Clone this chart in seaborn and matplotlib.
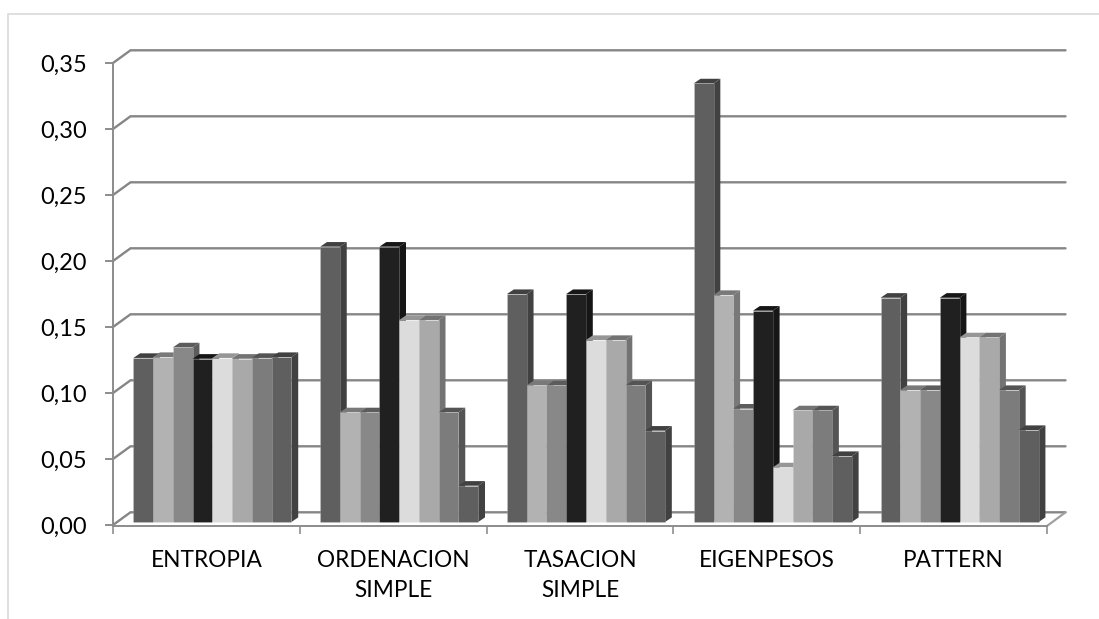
#!/usr/bin/env python3
# coding=utf-8

from matplotlib import pyplot as plt
from matplotlib import colors as matcolors
from matplotlib import lines as matlines
from matplotlib import patches as matpatches
from matplotlib import transforms as mattransforms
import pandas as pd
import seaborn as sns

WIDTH, HEIGHT = 1099, 619

categories = ["ENTROPIA", "ORDENACION\nSIMPLE", "TASACION\nSIMPLE", "EIGENPESOS", "PATTERN"]
series_names = ["s1", "s2", "s3", "s4", "s5", "s6", "s7", "s8"]

s1 = [0.1243, 0.2086, 0.1727, 0.3323, 0.1699]
s2 = [0.1250, 0.0831, 0.1035, 0.1720, 0.1000]
s3 = [0.1323, 0.0831, 0.1035, 0.0859, 0.1000]
s4 = [0.1237, 0.2086, 0.1727, 0.1601, 0.1699]
s5 = [0.1243, 0.1530, 0.1379, 0.0414, 0.1399]
s6 = [0.1237, 0.1530, 0.1379, 0.0846, 0.1399]
s7 = [0.1243, 0.0831, 0.1035, 0.0846, 0.1000]
s8 = [0.1250, 0.0275, 0.0692, 0.0500, 0.0697]

y_ticks = [0.00, 0.05, 0.10, 0.15, 0.20, 0.25, 0.30, 0.35]
y_tick_labels = ["0,00", "0,05", "0,10", "0,15", "0,20", "0,25", "0,30", "0,35"]

bar_colors = ["#5f5f5f", "#b2b2b2", "#888888", "#202020", "#dcdcdc", "#a9a9a9", "#7c7c7c", "#5f5f5f"]


def get_dataframe() -> pd.DataFrame:
    """Builds the long table for the bar plot."""
    values = [s1, s2, s3, s4, s5, s6, s7, s8]
    rows = []
    for name, series in zip(series_names, values):
        for category, value in zip(categories, series):
            rows.append({"category": category, "series": name, "value": value})
    return pd.DataFrame(rows)


def draw_walls(ax, depth_x: float = 17.5, depth_y: float = 12.7):
    """Draws the back wall lines and the floor of the fake 3D box."""
    grid_color = "#868686"
    for tick in y_ticks:
        (x0, y0) = ax.transData.transform((-0.5, tick))
        (x1, _) = ax.transData.transform((4.5, tick))
        ax.add_line(matlines.Line2D([x0, x0 + depth_x, x1 + depth_x + 1], [y0, y0 + depth_y, y0 + depth_y],
                                    color=grid_color, lw=1.7, transform=mattransforms.IdentityTransform(),
                                    clip_on=False, zorder=1, solid_joinstyle="miter"))
    (x1, y1) = ax.transData.transform((4.5, 0))
    ax.add_line(matlines.Line2D([x1, x1 + depth_x + 1], [y1 - 1, y1 + depth_y], color="#a0a0a0", lw=1.6,
                                transform=mattransforms.IdentityTransform(), clip_on=False, zorder=1))


def add_depth(ax, bar, color, zorder: float, depth_x: float = 6.8, depth_y: float = 4.6):
    """Adds the side and top faces to one bar."""
    transform = bar.get_transform()
    (x0, y0) = transform.transform((0, 0))
    (x1, y1) = transform.transform((1, 1))
    dark = tuple(c * 0.68 for c in matcolors.to_rgb(color))
    identity = mattransforms.IdentityTransform()

    side = [(x1, y0), (x1 + depth_x, y0 + depth_y), (x1 + depth_x, y1 + depth_y), (x1, y1)]
    top = [(x0, y1), (x0 + depth_x, y1 + depth_y), (x1 + depth_x, y1 + depth_y), (x1, y1)]
    for face in (side, top):
        ax.add_patch(matpatches.Polygon(face, closed=True, facecolor=dark, edgecolor="none",
                                        transform=identity, clip_on=False, zorder=zorder))


def plot_graph(df: pd.DataFrame, fig_location: str):
    """Plots the grouped bars with the 3D look."""
    sns.set_theme(style="white")
    plt.rcParams["font.family"] = ["Lato", "DejaVu Sans"]

    fig = plt.figure(figsize=(WIDTH / 100, HEIGHT / 100), dpi=100)
    ax = fig.add_axes([113 / WIDTH, (HEIGHT - 525) / HEIGHT, (1047 - 113) / WIDTH, (525 - 63) / HEIGHT])

    sns.barplot(data=df, x="category", y="value", hue="series", hue_order=series_names, palette=bar_colors,
                width=0.846, gap=0, saturation=1, legend=False, errorbar=None, linewidth=0, ax=ax)

    ax.set_xlim(-0.5, 4.5)
    ax.set_ylim(0, 0.35)
    ax.set_xlabel("")
    ax.set_ylabel("")
    ax.set_yticks(y_ticks)
    ax.set_yticklabels(y_tick_labels)
    ax.set_xticks(range(len(categories)))
    ax.set_xticklabels(categories)
    ax.patch.set_alpha(0)

    for side in ("top", "right"):
        ax.spines[side].set_visible(False)
    for side in ("left", "bottom"):
        ax.spines[side].set_color("#8c8c8c")
        ax.spines[side].set_linewidth(1.4)
    ax.spines["bottom"].set_position(("outward", 1))

    # category ticks sit between the groups, drawn as minor ticks
    ax.set_xticks([i - 0.5 for i in range(len(categories) + 1)], minor=True)
    ax.tick_params(axis="x", which="major", length=0, pad=17, labelsize=16.3, labelcolor="black")
    ax.tick_params(axis="x", which="minor", length=6, width=1.4, color="#a0a0a0", bottom=True)
    ax.tick_params(axis="y", length=6, width=1.4, color="#8c8c8c", left=True, pad=13, labelsize=17,
                   labelcolor="black")

    draw_walls(ax)

    # the bars stand a little inside the floor
    bar_transform = mattransforms.offset_copy(ax.transData, fig=fig, x=6, y=3, units="dots")
    bars = []
    for hue_index, container in enumerate(ax.containers):
        for bar in container:
            bars.append((bar, bar_colors[hue_index]))
    bars.sort(key=lambda item: item[0].get_x())

    for order, (bar, color) in enumerate(bars):
        bar.set_transform(bar.get_patch_transform() + bar_transform)
        bar.get_patch_transform = mattransforms.IdentityTransform
        bar.set_clip_on(False)
        bar.set_edgecolor((1, 1, 1, 0.18))
        bar.set_linewidth(0.6)
        zorder = 3 + order * 0.01
        bar.set_zorder(zorder + 0.005)
        add_depth(ax, bar, color, zorder)

    # light frame of the chart area, only left and top are inside the picture
    frame_left, frame_top = 7.5 / WIDTH, 1 - 13.5 / HEIGHT
    fig.add_artist(matlines.Line2D([frame_left, frame_left, 1], [0, frame_top, frame_top], color="#dcdcdc", lw=1.3))

    fig.canvas.draw()
    for label in ax.get_xticklabels():
        label.set_linespacing(1.55)

    fig.savefig(fig_location, dpi=100)


if __name__ == "__main__":
    plot_graph(get_dataframe(), "out.png")
